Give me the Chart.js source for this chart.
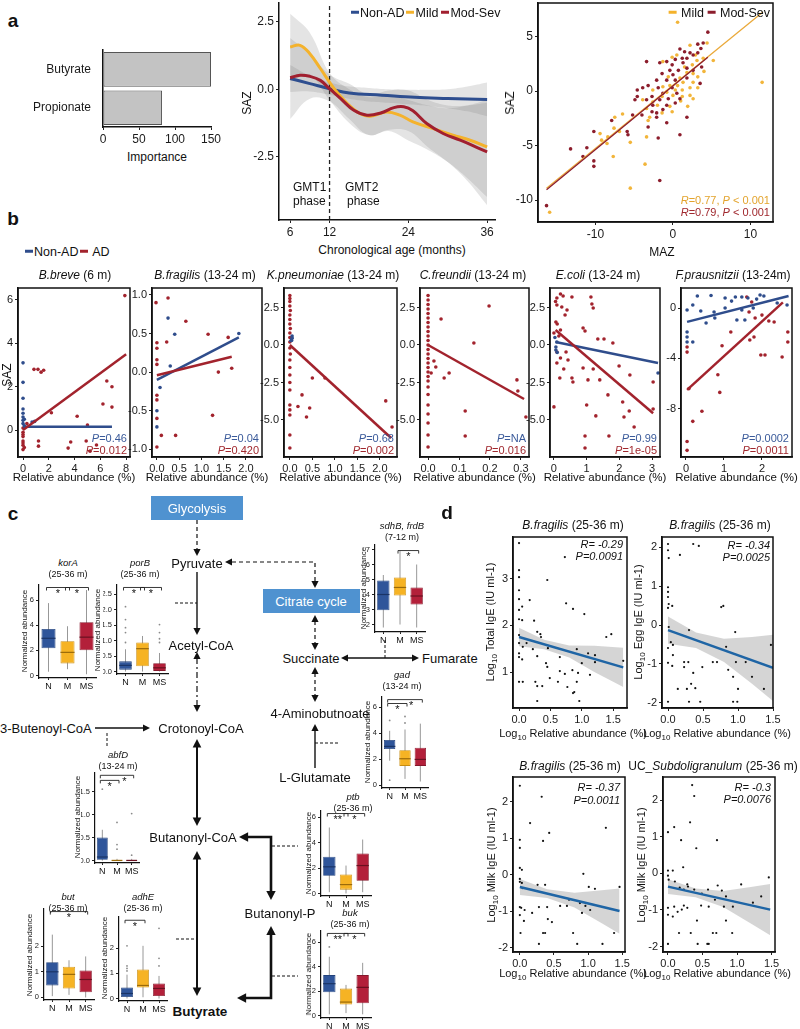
<!DOCTYPE html>
<html>
<head>
<meta charset="utf-8">
<script src="https://cdn.jsdelivr.net/npm/chart.js@4.4.1/dist/chart.umd.min.js"></script>
<style>
body{margin:0;background:#fff;width:800px;height:1029px;position:relative;overflow:hidden;font-family:"Liberation Sans",Arial,Helvetica,sans-serif;color:#111}
.t{position:absolute;white-space:nowrap;line-height:1}
.dash{display:inline-block;width:8px;height:3.5px;vertical-align:middle;margin:0 1px 2px 0}
#diag{position:absolute;left:0;top:0}
canvas{position:absolute}
</style>
</head>
<body>
<svg id="diag" width="800" height="1029"></svg>
<script>
// ---------- panel a ----------
const fattyAcids = ['Butyrate', 'Propionate'];
const importance = [150, 82];

const nonAge = [6, 9, 12, 15, 20, 25, 30, 36];
const nonSaz = [0.4, 0.21, 0.02, -0.14, -0.22, -0.3, -0.34, -0.38];
const mildAge = [6, 7.5, 9, 10.6, 12.7, 14.7, 16.6, 18.2, 20.7, 22.7, 24.7, 27.8, 30.8, 33.4, 36];
const mildSaz = [1.57, 1.63, 1.32, 0.77, 0.02, -0.53, -0.9, -1.0, -0.84, -0.96, -1.21, -1.46, -1.7, -1.89, -2.14];
const modAge = [6, 7.5, 9, 10.6, 12, 13.7, 15.7, 17.7, 19.8, 21.8, 23.3, 24.7, 26.8, 29.3, 31.9, 36];
const modSaz = [0.43, 0.52, 0.48, 0.33, 0.02, -0.35, -0.78, -0.96, -0.88, -0.68, -0.65, -0.8, -1.27, -1.64, -1.89, -2.32];
const bandAge = [6, 9, 12, 15, 18, 21, 24, 27, 30, 33, 36];
const nonHi = [0.9, 0.5, 0.25, 0.1, 0.05, 0.0, -0.02, -0.02, 0.0, 0.1, 0.25];
const nonLo = [-0.1, -0.08, -0.2, -0.35, -0.45, -0.5, -0.56, -0.62, -0.7, -0.82, -1.0];
const mildHi = [2.8, 2.1, 0.6, 0.0, -0.3, -0.2, -0.4, -0.6, -0.7, -0.6, -0.4];
const mildLo = [0.3, 0.5, -0.4, -1.25, -1.7, -1.55, -1.9, -2.25, -2.7, -3.3, -4.0];
const modHi = [1.9, 1.3, 0.55, 0.2, -0.2, -0.05, -0.05, -0.4, -0.6, -0.6, -0.5];
const modLo = [-1.1, -0.35, -0.45, -1.1, -1.7, -1.5, -1.55, -2.15, -2.7, -3.4, -4.3];
const phaseBreak = 12;

const mildPts = [[0.6,6.3],[4.4,4.4],[2.2,4.2],[0.5,3.3],[-0.1,3.1],[-1.3,2.7],[3.1,2.8],[3.9,3.0],[5.2,2.8],[2.5,2.4],[1.8,1.7],[2.6,1.6],[3.2,1.3],[2.6,0.8],[1.3,0.8],[0.6,0.5],[-0.4,0.5],[2.2,0.3],[3.2,0.3],[1.2,0.1],[0.3,0.1],[-1.3,0.4],[-2.6,0.1],[-0.8,-0.1],[2.2,-0.4],[1.2,-0.5],[0,-0.4],[-1.4,-0.5],[2.6,-0.7],[-3.9,-0.8],[-2.6,-1.0],[-0.4,-1.4],[1.9,-1.4],[-3.4,-1.6],[-0.1,-1.9],[-1.4,-2.0],[-3.0,-2.4],[-6.5,-2.1],[-7.5,-2.4],[-3.2,-2.7],[-7.6,-3.4],[-6.9,-3.7],[-9.4,-3.9],[-8.4,-4.2],[-3.4,-4.2],[-8.5,-4.8],[-5.5,-4.7],[-7.7,-6.0],[-3.6,-6.7],[-5.5,-8.9],[11.5,0.8],[-15.9,-11.1],[-9.2,-4.5],[1.5,2.2],[0.9,1.2],[-0.6,1.3],[1.0,-0.9],[-2.0,-1.3],[4.0,1.8],[2.9,3.3]];
const modPts = [[4.5,5.4],[3.9,4.4],[3.2,4.3],[3.6,3.9],[0.9,3.85],[1.5,3.6],[2.2,3.5],[2.6,3.3],[3.2,3.5],[1.2,3.0],[1.8,3.0],[0.3,2.9],[-3.4,2.7],[-0.8,2.7],[-1.7,2.6],[-0.1,2.4],[1.3,2.6],[-0.4,1.9],[0.7,1.9],[1.8,2.1],[2.6,1.9],[3.7,2.2],[-1.4,1.6],[0,1.5],[-0.8,1.0],[0.3,1.0],[-2.1,1.0],[-3.2,0.5],[1.8,1.2],[3.5,0.7],[-3.9,0.3],[-4.6,0.1],[-1.9,0.3],[-0.1,0.3],[-1.3,-0.2],[0.5,-0.2],[-2.7,-0.5],[-4.6,-0.5],[-4.9,-0.8],[-3.4,-0.8],[-1.7,-0.8],[-0.6,-0.7],[0.9,-0.7],[-2.6,-1.3],[-0.8,-1.3],[0.3,-1.1],[-2.7,-1.9],[-2.1,-2.0],[-1.3,-1.7],[-2.1,-2.4],[-4.0,-2.2],[-5.2,-2.2],[-7.9,-2.7],[-10.2,-3.7],[-5.9,-3.7],[-5.8,-4.0],[-3.2,-3.3],[-0.8,-2.9],[1.8,-2.4],[0.9,-4.0],[-1.9,-4.3],[-13.2,-5.3],[-11.1,-5.2],[-11.6,-6.0],[-10.2,-6.4],[-10.2,-6.9],[-1.7,-8.2],[-16.3,-10.5]];
const mildFit = [[-16.3,-8.9],[11.6,7.25]];
const modFit = [[-16.3,-9.05],[4.5,3.1]];

// ---------- panel b ----------
const b1Red = [[7.9,6.2],[0.85,2.8],[1.16,2.8],[1.4,2.67],[1.6,2.76],[6.5,2.26],[6.9,2.0],[6.2,1.2],[6.9,1.06],[2.2,0.8],[4.2,0.64],[0.3,0.3],[5.0,0.23],[1.2,-0.5],[1.2,-0.74],[3.7,-0.55],[3.5,-0.83],[4.9,-0.5],[5.7,-0.69],[5.2,-0.97],[0,0.1],[0,-0.1],[0,-0.3],[0,-0.5],[0,-0.7],[0,-0.9],[0,-0.2],[0,-0.6],[0.1,-0.8]];
const b1Blue = [[0,3.1],[0,2.2],[0,1.47],[0,0.97],[0,0.78],[0,0.6],[0,0.45],[0,0.3],[0.1,0.2],[0.7,0.37],[0.9,0.4],[0.1,0.5]];
const b1RedFit = [[0,0],[8,3.5]];
const b1BlueFit = [[0,0.15],[6.9,0.15]];

const b2Red = [[-0.02,0.9],[0.25,0.96],[0.65,0.66],[0,0.38],[0,0.31],[0.22,0.39],[1.15,0.49],[1.6,0.45],[0,0.16],[1.38,0.0],[1.68,0.05],[0,-0.3],[0,-0.36],[0,-0.6],[0.1,-0.82],[0.42,-0.82],[1.25,-0.56],[0,-0.97],[0,0.1]];
const b2Blue = [[0.25,0.7],[0.4,0.49],[1.84,0.5],[0.3,0.08],[0.07,-0.2],[0,-0.71],[0,-0.5]];
const b2RedFit = [[0,-0.04],[1.68,0.2]];
const b2BlueFit = [[0,-0.1],[1.84,0.45]];

const b3Red = [[0,3.3],[0,3.1],[0,2.9],[0,2.6],[0.01,2.3],[0,2.0],[0,1.7],[0,1.4],[0.01,1.1],[0,0.8],[0,0.5],[0,0.2],[0,-0.2],[0.01,-0.6],[0,-1.0],[0,-1.5],[0,-2.0],[0,-2.5],[0,-3.0],[0,-4.0],[0,-4.33],[0,-4.67],[0,-6.0],[0,-6.87],[0.5,-2.2],[0.78,-2.2],[0.27,-3.33],[0.18,-4.1],[0.44,-4.2],[0.37,-4.8],[2.13,-3.73],[2.27,-5.47]];
const b3Blue = [[0.05,0.45],[0.04,0.3],[0.05,0.6]];
const b3RedFit = [[0,0],[2.25,-6.2]];
const b3BlueFit = [[0,0.2],[0.06,0.55]];

const b4Red = [[0,3.3],[0,3.0],[0,2.7],[0,2.4],[0,2.1],[0,1.8],[0,1.5],[0,1.2],[0,0.9],[0,0.6],[0,0.3],[0,0.0],[0,-0.3],[0,-0.6],[0,-0.9],[0,-1.2],[0,-1.5],[0,-1.8],[0,-2.1],[0,-2.4],[0,-2.8],[0,-3.3],[0,-4.0],[0,-4.6],[0,-5.2],[0,-6.0],[0,-6.8],[0.197,2.6],[0.042,1.73],[0.148,0.13],[0.019,-1.07],[0.025,-1.47],[0.01,-1.87],[0.052,-2.2],[0.068,-1.87],[0.287,-2.33],[0.316,-4.8],[0.12,-4.4],[0.12,-6.07],[0.29,-3.07]];
const b4Blue = [];
const b4RedFit = [[0,0],[0.31,-3.6]];
const b4BlueFit = [];

const b5Red = [[0.09,3.13],[0.2,3.4],[0.28,3.27],[0.09,2.67],[0.24,2.53],[0.4,2.33],[0.55,3.2],[1.13,3.2],[1.16,2.73],[1.2,2.47],[0.06,1.53],[0.1,1.4],[0.34,2.0],[0,0.8],[0.2,1.0],[0.89,1.13],[0.95,0.93],[1.34,0.4],[1.53,0.4],[1.8,0.13],[0.09,-0.47],[0.2,-0.87],[0.09,-1.2],[0.37,-0.47],[0.43,-1.0],[0.18,-2.2],[0.55,-2.2],[0.58,-2.47],[0.89,-1.53],[1.2,-1.6],[1.04,-2.33],[1.4,-2.33],[1.99,-1.4],[2.32,-2.0],[3.03,-2.47],[0,-4.13],[1.0,-4.0],[1.28,-4.73],[1.65,-3.33],[2.1,-3.8],[2.3,-4.4],[2.14,-4.8],[2.45,-5.47],[0.95,-6.07],[0.95,-6.87],[1.68,-6.07],[3.03,-4.27],[0.05,2.9],[0.15,0.6],[0.3,-1.6]];
const b5Blue = [[0.09,0.2],[0.06,-0.13],[0.06,-0.33],[3.18,-1.87],[0.03,0.5],[0.1,-0.5]];
const b5RedFit = [[0.05,1.0],[3.03,-4.55]];
const b5BlueFit = [[0.05,0.2],[3.18,-1.2]];

const b6Red = [[1.6,0.87],[1.73,0.48],[1.66,-0.32],[1.82,-0.79],[2.0,-0.56],[2.18,-1.03],[2.32,-1.11],[1.18,-1.9],[1.68,-2.54],[1.79,-2.3],[1.97,-3.73],[2.08,-3.73],[2.53,-3.89],[2.68,-2.7],[2.68,-1.9],[0.95,-3.0],[0.03,-3.1],[0.03,-3.5],[0.84,-5.3],[0.08,-6.4],[0.89,-6.7],[0.42,-8.2],[0.18,-9.0],[0.03,-10.6],[0.03,-11.3]];
const b6Blue = [[0.3,0.95],[0.66,1.0],[1.03,0.8],[1.2,0.55],[1.3,0.87],[1.47,0.87],[1.63,0.8],[1.86,0.71],[1.95,1.03],[2.05,0.95],[0.18,0.24],[0.03,-0.16],[0.39,-0.24],[0.74,-0.32],[1.03,0],[1.47,-0.16],[1.77,0],[2.4,0.4],[2.66,0.24],[0.53,-1.19],[0.76,-0.79],[0.03,-1.9],[0.03,-2.3],[0.03,-2.7],[0.18,-2.7],[1.34,-0.95],[1.55,-0.95]];
const b6RedFit = [[0.03,-6.5],[2.55,0.45]];
const b6BlueFit = [[0.03,-1.1],[2.7,0.95]];

// ---------- panel c (boxplots: min, q1, median, q3, max) ----------
const groups = ['N', 'M', 'MS'];
const korA = [[0.3,2.16,2.96,3.7,5.76],[0.5,0.96,1.84,2.72,3.92],[0.1,2.0,3.05,4.24,6.8]];
const korAOut = [[],[],[]];
const porB = [[0,0.06,0.2,0.33,0.72],[0,0.17,0.74,0.94,1.15],[0,0.02,0.12,0.27,0.6]];
const porBOut = [[0.94,1.26,1.42,1.68,2.1],[],[0.94,1.06,1.26,1.52]];
const sdhB = [[1.8,2.95,4.0,4.93,5.3],[2.0,3.93,4.47,5.13,6.9],[1.8,3.33,3.9,4.47,6.0]];
const sdhBOut = [[],[],[]];
const gad = [[1.9,2.8,3.0,3.5,4.2],[0.5,1.5,2.05,2.7,4.3],[0.3,1.5,2.0,2.9,4.75]];
const gadOut = [[5.0,0.4],[4.8,5.3],[]];
const abfD = [[0,0.02,0.08,0.5,0.67],[0,0,0.005,0.02,0.04],[0,0,0.005,0.02,0.04]];
const abfDOut = [[1.55],[0.83,0.35,0.25],[1.02,0.12]];
const ptb = [[0.1,1.4,2.1,2.9,5.2],[0,0.3,0.7,1.5,2.2],[0.1,1.0,2.2,3.15,4.25]];
const ptbOut = [[],[],[]];
const buk = [[0.1,1.9,2.6,3.3,4.8],[0.2,0.9,1.1,2.2,2.5],[0.1,1.0,2.3,3.3,4.3]];
const bukOut = [[5.6],[],[]];
const butGene = [[0.05,0.47,1.0,1.37,2.45],[0.1,0.35,0.9,1.2,1.45],[0,0.2,0.7,1.05,1.6]];
const butOut = [[],[],[]];
const adhE = [[0,0.06,0.2,0.44,0.95],[0.05,0.44,0.52,1.16,2.1],[0,0.1,0.4,0.6,0.9]];
const adhEOut = [[1.1,1.2,1.3,2.1],[],[1.3,1.6,2.8]];

// ---------- panel d ----------
const d1Pts = [[0,3.76],[0,3.18],[0,3.03],[0,2.75],[0,2.56],[0.05,2.4],[0,2.33],[0,2.13],[0.05,2.11],[0.17,2.54],[0.73,3.46],[0.45,2.97],[0.75,2.47],[0.86,2.35],[1.04,2.24],[0.24,2.1],[1.39,1.75],[1.47,1.81],[0.29,1.86],[0.34,1.81],[0.35,1.75],[0,1.79],[0,1.62],[0.06,1.54],[0.12,1.62],[0.22,1.49],[0,1.4],[0,1.32],[0.05,1.27],[0.29,1.34],[0.46,1.51],[0.65,1.32],[0.92,1.49],[1.21,1.36],[1.1,1.4],[0.43,1.19],[0.45,1.11],[0.65,1.02],[0.73,0.96],[0.85,1.04],[0.94,0.98],[1.13,0.94],[1.0,1.19],[1.21,1.21],[1.66,1.24],[0,0.79],[0.06,0.79],[0.26,0.79],[0.29,0.7],[0.37,0.7],[0.49,0.87],[0.62,0.79],[0.77,0.68],[0.92,0.79],[0.88,0.57],[0.29,0.38],[0.96,0.38],[0.86,0.55]];
const d1Fit = [[0,1.75],[1.66,1.1]];
const d1BandX = [0, 0.4, 0.8, 1.2, 1.66];
const d1Hi = [1.95, 1.69, 1.57, 1.56, 1.52];
const d1Lo = [1.55, 1.49, 1.31, 1.0, 0.68];

const d2Pts = [[0,2.08],[0,1.92],[0.01,1.72],[0.17,1.8],[0.36,2.08],[0.44,2.03],[0,0.97],[0,0.85],[0,0.72],[0.01,0.54],[0.06,0.49],[0,0.44],[0.76,0.46],[0.79,0.49],[0.3,-0.13],[0.01,-0.05],[0.04,-0.44],[0.07,-0.51],[0,-0.59],[0.07,-0.77],[0,-0.97],[0.06,-1.05],[0.23,-0.95],[0.29,-0.95],[0.23,-1.08],[0.49,-1.08],[0.36,-1.23],[0.64,-0.95],[0.7,-0.95],[0.83,-0.56],[0.96,-0.18],[0.97,-0.95],[1.11,-0.95],[0.86,-1.15],[0.93,-1.33],[1.2,-1.33],[1.47,-0.51],[0.33,-1.51],[0.39,-1.62],[0.14,-1.64],[0.27,-1.64],[1.0,-1.64],[1.37,-1.64],[0,-1.97],[0.3,-1.97],[0.46,-1.97],[0.93,-1.97],[0.99,-1.97]];
const d2Fit = [[0,-0.13],[1.5,-1.1]];
const d2BandX = [0, 0.4, 0.8, 1.2, 1.5];
const d2Hi = [0.22, -0.19, -0.35, -0.31, -0.25];
const d2Lo = [-0.48, -0.59, -0.95, -1.51, -1.95];

const d3Pts = [[0,2.44],[0.32,2.14],[0.15,1.42],[0.43,1.15],[0,0.96],[0.34,0.93],[0,0.74],[1.26,1.29],[0.93,0.03],[0,0.19],[0.03,0.14],[0,-0.11],[0,-0.19],[0.03,-0.22],[0.04,-0.36],[0.26,-0.27],[0.37,-0.27],[0.72,-0.68],[1.01,-0.33],[1.1,-0.38],[0.59,-0.85],[0.69,-0.85],[0.88,-0.77],[0.96,-0.85],[1.03,-0.96],[0.91,-1.04],[0.28,-0.88],[0.4,-0.88],[0.18,-1.04],[0.07,-0.96],[0,-0.88],[0.02,-0.9],[0,-1.1],[0.06,-1.26],[0.41,-1.21],[0.47,-1.29],[0.01,-1.59],[0.34,-1.59],[0.37,-1.59],[0.78,-1.59],[1.38,-1.59],[0.28,-1.89],[0.84,-1.89],[1.21,-1.89],[1.46,-0.33]];
const d3Fit = [[0,-0.33],[1.46,-0.99]];
const d3BandX = [0, 0.4, 0.8, 1.2, 1.46];
const d3Hi = [-0.11, -0.39, -0.49, -0.42, -0.37];
const d3Lo = [-0.55, -0.63, -0.89, -1.32, -1.61];

const d4Pts = [[0.35,2.42],[0.38,2.12],[0,1.13],[0.09,1.27],[0.32,1.4],[0.19,0.91],[0.71,0.91],[0.41,0.69],[0.22,0.17],[0,0.08],[0.07,0.08],[0,-0.06],[0.01,-0.17],[0.1,-0.22],[0.17,-0.39],[0.28,-0.3],[0.23,-0.44],[0.38,-0.44],[0.29,-0.36],[0.49,-0.55],[0.58,-0.44],[0.72,-0.33],[1.06,-0.3],[0.78,-0.47],[0.84,-0.63],[0.81,-0.91],[0.94,-0.91],[1.35,-0.63],[1.23,-0.8],[0.68,-0.72],[0.59,-0.91],[0.48,-0.88],[0.23,-0.88],[0.28,-0.94],[0.09,-0.91],[0.14,-1.05],[0.2,-0.99],[0,-0.94],[0.07,-1.18],[0,-1.13],[0.42,-1.29],[0.16,-1.63],[0.33,-1.63],[0.65,-1.63],[0.7,-1.63],[0.93,-1.63],[0.84,-1.29],[0.43,-1.93],[0.57,-1.93],[0.59,-1.93],[0,-1.93],[1.46,-0.11]];
const d4Fit = [[0,-0.36],[1.48,-0.99]];
const d4BandX = [0, 0.4, 0.8, 1.2, 1.48];
const d4Hi = [-0.16, -0.41, -0.48, -0.37, -0.29];
const d4Lo = [-0.56, -0.65, -0.92, -1.37, -1.69];

// ---------- styling ----------
const FONT = '"Liberation Sans", Arial, Helvetica, sans-serif';
const NONAD = '#2E4E8F', MILD = '#F4B22C', MODSEV = '#A11F2F';
const BLUE = '#2F4D8C', RED = '#A2232D';
const boxFill = ['#2F559A', '#F6B324', '#B3203A'];
const boxEdge = ['#23427A', '#C98D10', '#85172B'];
const boxMed = ['#1A3466', '#9A6A0A', '#6A1020'];

Chart.defaults.font.family = FONT;
Chart.defaults.color = '#1a1a1a';
Chart.defaults.animation = false;
Chart.defaults.events = [];
Chart.defaults.plugins.legend.display = false;
Chart.defaults.plugins.tooltip.enabled = false;

const boxCfg = new Map();

Chart.register({
    id: 'frame',
    afterDraw(chart, args, o) {
        if (!o || !o.on) return;
        const a = chart.chartArea, ctx = chart.ctx;
        ctx.save();
        ctx.strokeStyle = '#111';
        ctx.lineWidth = 1.5;
        ctx.strokeRect(a.left, a.top, a.right - a.left, a.bottom - a.top);
        ctx.restore();
    }
});

Chart.register({
    id: 'box',
    beforeDatasetsDraw(chart) {
        const o = boxCfg.get(chart.canvas);
        if (!o) return;
        const ctx = chart.ctx, x = chart.scales.x, y = chart.scales.y;
        ctx.save();
        ctx.strokeStyle = '#8c8c8c';
        ctx.lineWidth = 0.9;
        o.rows.forEach((r, i) => {
            const px = x.getPixelForValue(i);
            ctx.beginPath();
            ctx.moveTo(px, y.getPixelForValue(r[0]));
            ctx.lineTo(px, y.getPixelForValue(r[4]));
            ctx.stroke();
        });
        ctx.restore();
    },
    afterDatasetsDraw(chart) {
        const o = boxCfg.get(chart.canvas);
        if (!o) return;
        const ctx = chart.ctx, x = chart.scales.x, y = chart.scales.y;
        const bars = chart.getDatasetMeta(0).data;
        ctx.save();
        o.rows.forEach((r, i) => {
            const px = x.getPixelForValue(i), hw = bars[i].width / 2;
            ctx.strokeStyle = boxMed[i];
            ctx.lineWidth = 1.2;
            ctx.beginPath();
            ctx.moveTo(px - hw, y.getPixelForValue(r[2]));
            ctx.lineTo(px + hw, y.getPixelForValue(r[2]));
            ctx.stroke();
            ctx.fillStyle = '#8a8a8a';
            (o.outs[i] || []).forEach(v => {
                ctx.beginPath();
                ctx.arc(px, y.getPixelForValue(v), 0.9, 0, 7);
                ctx.fill();
            });
        });
        ctx.strokeStyle = '#222';
        ctx.lineWidth = 0.9;
        ctx.fillStyle = '#111';
        ctx.font = '11px ' + FONT;
        ctx.textAlign = 'center';
        ctx.textBaseline = 'top';
        o.brs.forEach(b => {
            const x1 = x.getPixelForValue(b[0]) - 2, x2 = x.getPixelForValue(b[1]) + 2;
            const yy = y.getPixelForValue(b[2]);
            ctx.beginPath();
            ctx.moveTo(x1, yy + 3); ctx.lineTo(x1, yy); ctx.lineTo(x2, yy); ctx.lineTo(x2, yy + 3);
            ctx.stroke();
            const x0 = x.getPixelForValue(0), step = x.getPixelForValue(1) - x0;
            const lx = b[4] !== undefined ? x0 + step * b[4] : (x1 + x2) / 2;
            ctx.fillText(b[3], lx, yy + 1);
        });
        ctx.restore();
    }
});

// ---------- helpers ----------
const P = a => a.map(p => ({ x: p[0], y: p[1] }));
const zip = (xs, ys) => xs.map((v, i) => [v, ys[i]]);

function canvasAt(L, T, R, B, yw, xh, pt, pr) {
    const w = Math.round(R - L + yw + pr), h = Math.round(B - T + pt + xh);
    const c = document.createElement('canvas');
    c.width = w; c.height = h;
    c.style.left = (L - yw) + 'px';
    c.style.top = (T - pt) + 'px';
    c.style.width = w + 'px';
    c.style.height = h + 'px';
    document.body.appendChild(c);
    return c;
}

function linScale(pos, min, max, ticks, size, fmt, fs, bw) {
    return {
        type: 'linear', position: pos, min, max,
        afterBuildTicks: s => { s.ticks = ticks.map(v => ({ value: v })); },
        afterFit: s => { if (pos === 'left') s.width = size; else s.height = size; },
        ticks: { font: { size: fs }, color: '#1a1a1a', padding: 2, maxRotation: 0, autoSkip: false, callback: fmt },
        grid: { display: true, drawOnChartArea: false, drawTicks: true, tickLength: 3, color: '#222', lineWidth: 1 },
        border: { display: true, color: '#111', width: bw || 1.5 }
    };
}

function opts(xs, ys, pt, pr, plugins) {
    return {
        responsive: false, animation: false, events: [],
        layout: { autoPadding: false, padding: { top: pt, right: pr, left: 0, bottom: 0 } },
        scales: { x: xs, y: ys },
        plugins: Object.assign({ legend: { display: false }, tooltip: { enabled: false } }, plugins || {})
    };
}

const pts = (d, c, r) => ({ data: P(d), showLine: false, pointRadius: r, pointBackgroundColor: c, pointBorderWidth: 0, borderColor: c });
const ln = (d, c, w, extra) => Object.assign({ data: P(d), showLine: true, pointRadius: 0, borderColor: c, borderWidth: w, tension: 0, fill: false }, extra || {});
const band = (xs, hi, lo, col, tension) => [
    ln(zip(xs, hi), 'rgba(0,0,0,0)', 0, { fill: '+1', backgroundColor: col, tension: tension || 0 }),
    ln(zip(xs, lo), 'rgba(0,0,0,0)', 0, { tension: tension || 0 })
];

const f0 = v => String(v);
const f1 = v => v.toFixed(1);

function txt(html, x, y, o) {
    o = o || {};
    const d = document.createElement('div');
    d.className = 't';
    d.innerHTML = html;
    const ax = o.a === 'l' ? '0' : o.a === 'r' ? '-100%' : '-50%';
    d.style.left = x + 'px';
    d.style.top = y + 'px';
    d.style.fontSize = (o.s || 12) + 'px';
    d.style.color = o.c || '#111';
    if (o.b) d.style.fontWeight = 'bold';
    if (o.i) d.style.fontStyle = 'italic';
    d.style.transform = 'translate(' + ax + ',-50%)' + (o.r ? ' rotate(-90deg)' : '');
    document.body.appendChild(d);
}

// ---------- pathway diagram (panel c) ----------
const svg = document.getElementById('diag');
function sv(tag, attrs) {
    const e = document.createElementNS('http://www.w3.org/2000/svg', tag);
    for (const k in attrs) e.setAttribute(k, attrs[k]);
    svg.appendChild(e);
    return e;
}
function seg(p, w, dash) {
    sv('polyline', { points: p.map(q => q.join(',')).join(' '), fill: 'none', stroke: '#111', 'stroke-width': w, 'stroke-dasharray': dash || 'none' });
}
function head(x, y, dir, s) {
    s = s || 1;
    const L = 7 * s, H = 3.6 * s;
    let p;
    if (dir === 'd') p = [[x, y], [x - H, y - L], [x + H, y - L]];
    if (dir === 'u') p = [[x, y], [x - H, y + L], [x + H, y + L]];
    if (dir === 'l') p = [[x, y], [x + L, y - H], [x + L, y + H]];
    if (dir === 'r') p = [[x, y], [x - L, y - H], [x - L, y + H]];
    sv('polygon', { points: p.map(q => q.join(',')).join(' '), fill: '#111' });
}
sv('rect', { x: 151, y: 496, width: 92, height: 24, fill: '#4F92D0' });
sv('rect', { x: 263, y: 589, width: 97, height: 24, fill: '#4F92D0' });
seg([[197, 520], [197, 550]], 1.2, '4,3'); head(197, 556, 'd');
seg([[197, 572], [197, 629]], 1.4); head(197, 635, 'd');
seg([[175, 603], [197, 603]], 1, '3,2');
seg([[197, 658], [197, 706]], 1.2, '6,3,2,3'); head(197, 652, 'u'); head(197, 712, 'd');
seg([[95, 728], [144, 728]], 1.4); head(150, 728, 'r');
seg([[107, 733], [107, 746]], 1, '3,2');
seg([[197, 745], [197, 820]], 2); head(197, 739, 'u', 1.2); head(197, 826, 'd', 1.2);
seg([[247, 837], [271, 837], [271, 892]], 2.6); head(239, 837, 'l', 1.3); head(271, 900, 'd', 1.3);
seg([[272, 846], [298, 846]], 1, '3,2');
seg([[271, 934], [271, 998], [245, 998]], 2.6); head(271, 926, 'u', 1.3); head(237, 998, 'l', 1.3);
seg([[272, 976], [298, 976]], 1, '3,2');
seg([[197, 859], [197, 988]], 2); head(197, 851, 'u', 1.2); head(197, 996, 'd', 1.2);
seg([[176, 939], [197, 939]], 1, '3,2');
seg([[232, 562], [315, 562], [315, 582]], 1.2, '4,3'); head(225, 562, 'l'); head(315, 588, 'd');
seg([[315, 621], [315, 644]], 1.2, '4,3'); head(315, 615, 'u'); head(315, 650, 'd');
seg([[347, 658], [413, 658]], 1.4); head(341, 658, 'l'); head(419, 658, 'r');
seg([[385, 640], [385, 658]], 1, '3,2');
seg([[315, 673], [315, 696]], 1.2, '4,3'); head(315, 667, 'u'); head(315, 702, 'd');
seg([[315, 730], [315, 768]], 1.4); head(315, 724, 'u');
seg([[315, 743], [340, 743]], 1, '3,2');

// ---------- panel a charts ----------
new Chart(canvasAt(103, 49, 211, 127, 100, 22, 10, 14), {
    type: 'bar',
    data: { labels: fattyAcids, datasets: [{ data: importance, backgroundColor: '#C3C3C3', borderColor: '#555', borderWidth: 1, borderSkipped: false, barPercentage: 0.9, categoryPercentage: 1 }] },
    options: Object.assign(opts(
        linScale('bottom', 0, 150, [0, 50, 100, 150], 22, f0, 12),
        { type: 'category', position: 'left', afterFit: s => { s.width = 100; }, ticks: { font: { size: 12 }, color: '#1a1a1a', padding: 4 }, grid: { display: false }, border: { display: true, color: '#111', width: 1.5 } },
        10, 14), { indexAxis: 'y' })
});

new Chart(canvasAt(279, 3, 495, 220, 32, 22, 10, 8), {
    type: 'line',
    data: { datasets: [
        ln(zip(modAge, modSaz), MODSEV, 3, { tension: 0.4 }),
        ln(zip(mildAge, mildSaz), MILD, 3, { tension: 0.4 }),
        ln(zip(nonAge, nonSaz), NONAD, 3, { tension: 0.4 }),
        ln([[phaseBreak, -4.85], [phaseBreak, 3.2]], '#222', 1.3, { borderDash: [4, 3] }),
        ...band(bandAge, mildHi, mildLo, 'rgba(120,120,120,0.2)', 0.4),
        ...band(bandAge, modHi, modLo, 'rgba(120,120,120,0.2)', 0.4),
        ...band(bandAge, nonHi, nonLo, 'rgba(120,120,120,0.2)', 0.4)
    ] },
    options: opts(
        linScale('bottom', 4.3, 37.2, [6, 12, 24, 36], 22, f0, 12),
        linScale('left', -4.85, 3.2, [-2.5, 0, 2.5], 32, f1, 12),
        10, 8)
});

new Chart(canvasAt(538, 3, 773, 222, 28, 22, 10, 12), {
    type: 'line',
    data: { datasets: [
        ln(modFit, '#8C1D2C', 1.3),
        ln(mildFit, '#EAA93A', 1.3),
        pts(modPts, '#8C1D2C', 1.8),
        pts(mildPts, '#F2B53A', 1.8)
    ] },
    options: opts(
        linScale('bottom', -17.4, 12.9, [-10, 0, 10], 22, f0, 12),
        linScale('left', -12.0, 8.07, [-10, -5, 0, 5], 28, f0, 12),
        10, 12, { frame: { on: true } })
});

// ---------- panel b charts ----------
function bPlot(L, R, xr, xt, xf, yr, yt, yf, red, blue, redFit, blueFit) {
    const ds = [];
    if (redFit.length) ds.push(ln(redFit, RED, 2.5));
    if (blueFit.length) ds.push(ln(blueFit, BLUE, 2.5));
    ds.push(pts(blue, BLUE, 1.8), pts(red, RED, 1.8));
    new Chart(canvasAt(L, 288, R, 457, 24, 20, 10, 12), {
        type: 'line',
        data: { datasets: ds },
        options: opts(
            linScale('bottom', xr[0], xr[1], xt, 20, xf, 11),
            linScale('left', yr[0], yr[1], yt, 24, yf, 11),
            10, 12, { frame: { on: true } })
    });
}
bPlot(18, 130, [-0.39, 8.3], [0, 2, 4, 6, 8], f0, [-1.24, 6.55], [0, 2, 4, 6], f0, b1Red, b1Blue, b1RedFit, b1BlueFit);
bPlot(152, 262, [-0.11, 2.36], [0, 0.5, 1, 1.5, 2], f1, [-1.1, 1.09], [-1, -0.5, 0, 0.5, 1], f1, b2Red, b2Blue, b2RedFit, b2BlueFit);
bPlot(284, 397, [-0.13, 2.38], [0, 0.5, 1, 1.5, 2], f1, [-7.47, 3.8], [-5, -2.5, 0, 2.5], f1, b3Red, b3Blue, b3RedFit, b3BlueFit);
bPlot(420, 529, [-0.026, 0.326], [0, 0.1, 0.2, 0.3], f1, [-7.47, 3.8], [-5, -2.5, 0, 2.5], f1, b4Red, b4Blue, b4RedFit, b4BlueFit);
bPlot(550, 660, [-0.12, 3.24], [0, 1, 2, 3], f0, [-7.47, 3.8], [-5, -2.5, 0, 2.5], f1, b5Red, b5Blue, b5RedFit, b5BlueFit);
bPlot(681, 792, [-0.13, 2.79], [0, 1, 2], f0, [-11.83, 1.59], [-8, -4, 0], f0, b6Red, b6Blue, b6RedFit, b6BlueFit);

// ---------- panel c boxplots ----------
function boxPlot(L, R, T, B, yr, yt, yf, rows, outs, brs) {
    const c = canvasAt(L, T, R, B, 14, 12, 7, 3);
    boxCfg.set(c, { rows, outs, brs });
    new Chart(c, {
        type: 'bar',
        data: { labels: groups, datasets: [{ data: rows.map(r => [r[1], r[3]]), backgroundColor: boxFill, borderColor: boxEdge, borderWidth: 0.8, borderSkipped: false, barPercentage: 0.74, categoryPercentage: 1 }] },
        options: opts(
            { type: 'category', position: 'bottom', offset: true, afterFit: s => { s.height = 12; },
              ticks: { font: { size: 9 }, color: '#111', padding: 1, maxRotation: 0, autoSkip: false },
              grid: { display: true, offset: false, drawOnChartArea: false, drawTicks: true, tickLength: 2, color: '#222' },
              border: { display: true, color: '#111', width: 1.2 } },
            linScale('left', yr[0], yr[1], yt, 14, yf, 7.5, 1.2),
            7, 3)
    });
}
boxPlot(38.5, 95.5, 585, 677.5, [-0.2, 7.2], [0, 2, 4, 6], f0, korA, korAOut, [[0, 1, 7.0, '*'], [1, 2, 7.0, '*']]);
boxPlot(116.5, 167.5, 585.2, 674.5, [-0.08, 2.8], [0, 0.5, 1, 1.5, 2, 2.5], f1, porB, porBOut, [[0, 1, 2.72, '*'], [1, 2, 2.72, '*']]);
boxPlot(375, 425, 544.5, 631.5, [1.5, 7.3], [2, 3, 4, 5, 6, 7], f0, sdhB, sdhBOut, [[1, 2, 6.93, '*']]);
boxPlot(382, 428, 696.6, 787.6, [-0.2, 6.8], [0, 2, 4, 6], f0, gad, gadOut, [[0, 2, 6.6, '*', 1.4], [0, 1, 6.3, '*']]);
boxPlot(95, 139, 772.6, 862.3, [-0.05, 1.9], [0, 0.5, 1, 1.5], f1, abfD, abfDOut, [[0, 2, 1.85, '*', 1.5], [0, 1, 1.74, '*']]);
boxPlot(321, 371, 810.5, 895.5, [-0.2, 6.5], [0, 2, 4, 6], f0, ptb, ptbOut, [[0, 1, 6.3, '**'], [1, 2, 6.3, '*']]);
boxPlot(321, 371, 930.8, 1017.4, [-0.2, 6.9], [0, 2, 4, 6], f0, buk, bukOut, [[0, 1, 6.7, '**'], [1, 2, 6.7, '*']]);
boxPlot(44, 94, 909.3, 1000.6, [-0.1, 3.45], [0, 1, 2], f0, butGene, butOut, [[0, 2, 3.35, '*']]);
boxPlot(119, 167, 916.75, 1000.5, [-0.1, 3.25], [0, 1, 2], f0, adhE, adhEOut, [[0, 1, 3.12, '*']]);

// ---------- panel d charts ----------
function dPlot(L, R, T, B, xr, yr, yt, dots, fit, bx, hi, lo) {
    new Chart(canvasAt(L, T, R, B, 22, 22, 10, 12), {
        type: 'line',
        data: { datasets: [
            ln(fit, '#1F65A5', 2.5),
            pts(dots, '#111', 1.1),
            ...band(bx, hi, lo, 'rgba(185,185,185,0.6)')
        ] },
        options: opts(
            linScale('bottom', xr[0], xr[1], [0, 0.5, 1, 1.5], 22, f1, 11),
            linScale('left', yr[0], yr[1], yt, 22, f0, 11),
            10, 12, { frame: { on: true } })
    });
}
dPlot(513, 627, 537, 708, [-0.096, 1.72], [0.23, 3.89], [1, 2, 3], d1Pts, d1Fit, d1BandX, d1Hi, d1Lo);
dPlot(662, 773, 537, 708, [-0.086, 1.5], [-2.13, 2.26], [-2, -1, 0, 1, 2], d2Pts, d2Fit, d2BandX, d2Hi, d2Lo);
dPlot(513, 625, 777, 952, [-0.1, 1.54], [-2.11, 2.68], [-2, -1, 0, 1, 2], d3Pts, d3Fit, d3BandX, d3Hi, d3Lo);
dPlot(663, 775, 777, 952, [-0.072, 1.55], [-2.15, 2.64], [-2, -1, 0, 1, 2], d4Pts, d4Fit, d4BandX, d4Hi, d4Lo);

// ---------- texts ----------
txt('a', 13, 20, { s: 19, b: true });
txt('b', 13, 218, { s: 19, b: true });
txt('c', 13, 513, { s: 19, b: true });
txt('d', 447, 512, { s: 19, b: true });

txt('Importance', 157, 157, { s: 12 });
txt('<span class="dash" style="background:' + NONAD + '"></span>Non-AD<span class="dash" style="background:' + MILD + ';margin-left:2px"></span>Mild<span class="dash" style="background:' + MODSEV + ';margin-left:3px"></span>Mod-Sev', 351, 13, { s: 12.5, a: 'l' });
txt('SAZ', 247, 103, { s: 12, r: true });
txt('GMT1', 293, 187, { s: 12, a: 'l' });
txt('phase', 293, 201, { s: 12, a: 'l' });
txt('GMT2', 345, 187, { s: 12, a: 'l' });
txt('phase', 347, 201, { s: 12, a: 'l' });
txt('Chronological age (months)', 392, 250, { s: 12 });

txt('<span class="dash" style="background:' + MILD + '"></span> Mild <span class="dash" style="background:#8C1D2C"></span> Mod-Sev', 770, 13, { s: 12.5, a: 'r' });
txt('SAZ', 510, 103, { s: 12, r: true });
txt('MAZ', 662, 252, { s: 12 });
txt('<i>R</i>=0.77, <i>P</i> &lt; 0.001', 770, 200, { s: 11, a: 'r', c: '#E3A42E' });
txt('<i>R</i>=0.79, <i>P</i> &lt; 0.001', 770, 212, { s: 11, a: 'r', c: '#A0282E' });

txt('<span class="dash" style="background:' + BLUE + '"></span>Non-AD<span class="dash" style="background:' + RED + ';margin-left:2px"></span> AD', 25, 252, { s: 12.5, a: 'l' });
const bTitles = ['<i>B.breve</i> (6 m)', '<i>B.fragilis</i> (13-24 m)', '<i>K.pneumoniae</i> (13-24 m)', '<i>C.freundii</i> (13-24 m)', '<i>E.coli</i> (13-24 m)', '<i>F.prausnitzii</i> (13-24m)'];
const bTitleX = [75, 205, 333, 473, 598, 733];
const bBoxL = [18, 152, 284, 420, 550, 681];
const bBoxR = [130, 262, 397, 529, 660, 792];
const bPBlue = ['0.46', '0.04', '0.68', 'NA', '0.99', '0.0002'];
const bPRed = ['0.012', '0.420', '0.002', '0.016', '1e-05', '0.0011'];
bTitles.forEach((t, i) => {
    txt(t, bTitleX[i], 275, { s: 12 });
    txt('Relative abundance (%)', (bBoxL[i] + bBoxR[i]) / 2, 478, { s: 11.5 });
    txt('<i>P</i>=' + bPBlue[i], bBoxR[i] - 3, 438, { s: 11, a: 'r', c: '#3A5A9A' });
    txt('<i>P</i>=' + bPRed[i], bBoxR[i] - 3, 450, { s: 11, a: 'r', c: '#A0282E' });
});
txt('SAZ', 7, 375, { s: 12, r: true });

// panel c labels
txt('Glycolysis', 197, 508, { s: 13, c: '#fff' });
txt('Citrate cycle', 311, 601, { s: 13, c: '#fff' });
txt('Pyruvate', 197, 563, { s: 13 });
txt('Acetyl-CoA', 201, 645, { s: 13 });
txt('Crotonoyl-CoA', 201, 728, { s: 13 });
txt('3-Butenoyl-CoA', 0, 728, { s: 13, a: 'l' });
txt('Butanonyl-CoA', 193, 837, { s: 13 });
txt('Butanonyl-P', 280, 913, { s: 13 });
txt('Butyrate', 200, 1012, { s: 13.5, b: true });
txt('Succinate', 311, 658, { s: 13 });
txt('Fumarate', 422, 658, { s: 13, a: 'l' });
txt('4-Aminobutnoate', 320, 713, { s: 13 });
txt('L-Glutamate', 315, 777, { s: 13 });

const geneTitles = [['korA', '(25-36 m)', 68, 563], ['porB', '(25-36 m)', 140, 563], ['sdhB, frdB', '(7-12 m)', 402, 526], ['gad', '(13-24 m)', 402, 675], ['abfD', '(13-24 m)', 118, 755], ['ptb', '(25-36 m)', 353, 797], ['buk', '(25-36 m)', 350, 913], ['but', '(25-36 m)', 68, 897], ['adhE', '(25-36 m)', 143, 897]];
geneTitles.forEach(g => {
    txt(g[0], g[2], g[3], { s: 9.5, i: true });
    txt(g[1], g[2], g[3] + 11, { s: 9 });
});
const normLabels = [[25, 631], [98, 630], [364, 588], [368, 742], [78, 817], [309, 853], [309, 974], [30, 955], [105, 958]];
normLabels.forEach(p => txt('Normalized abundance', p[0], p[1], { s: 8, r: true }));

// panel d labels
txt('<i>B.fragilis</i> (25-36 m)', 573, 525, { s: 12 });
txt('<i>B.fragilis</i> (25-36 m)', 720, 525, { s: 12 });
txt('<i>B.fragilis</i> (25-36 m)', 570, 766, { s: 12 });
txt('UC_<i>Subdoligranulum</i> (25-36 m)', 713, 766, { s: 12 });
txt('R= -0.29', 623, 544, { s: 11, i: true, a: 'r' });
txt('P=0.0091', 623, 556, { s: 11, i: true, a: 'r' });
txt('R= -0.34', 770, 545, { s: 11, i: true, a: 'r' });
txt('P=0.0025', 770, 557, { s: 11, i: true, a: 'r' });
txt('R= -0.37', 620, 787, { s: 11, i: true, a: 'r' });
txt('P=0.0011', 620, 800, { s: 11, i: true, a: 'r' });
txt('R= -0.3', 771, 787, { s: 11, i: true, a: 'r' });
txt('P=0.0076', 771, 799, { s: 11, i: true, a: 'r' });
txt('Log<sub style="font-size:8px">10</sub> Total IgE (IU ml-1)', 492, 622, { s: 11, r: true });
txt('Log<sub style="font-size:8px">10</sub> Egg IgE (IU ml-1)', 640, 622, { s: 11, r: true });
txt('Log<sub style="font-size:8px">10</sub> Milk IgE (IU ml-1)', 493, 865, { s: 11, r: true });
txt('Log<sub style="font-size:8px">10</sub> Milk IgE (IU ml-1)', 643, 865, { s: 11, r: true });
[[573, 735], [717, 735], [573, 975], [717, 975]].forEach(p => txt('Log<sub style="font-size:8px">10</sub> Relative abundance (%)', p[0], p[1], { s: 11 }));
</script>
</body>
</html>
